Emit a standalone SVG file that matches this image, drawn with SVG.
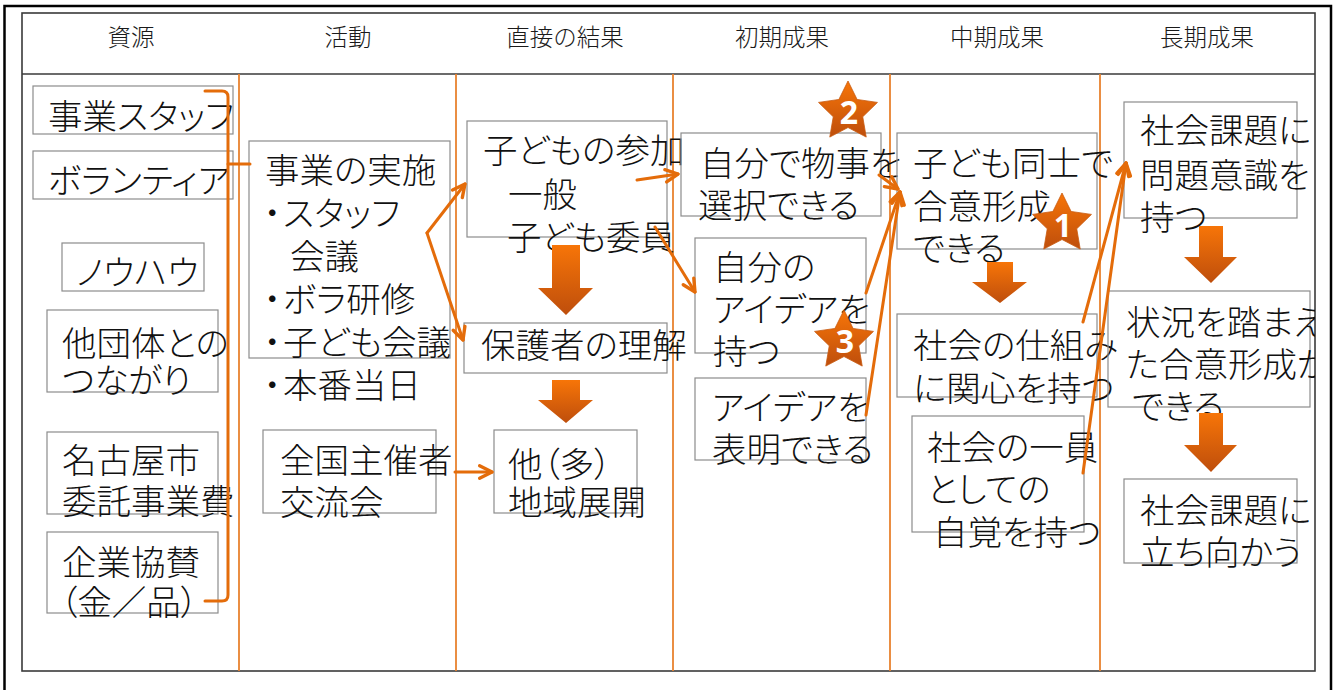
<svg xmlns="http://www.w3.org/2000/svg" width="1335" height="690" viewBox="0 0 1335 690">
<style>
  .hd { font-family: "Noto Sans CJK JP", "Noto Sans", sans-serif; font-size: 23.5px; font-weight: 300; fill: #1a1a1a; text-anchor: middle; }
  .t { font-family: "Noto Sans CJK JP", "Noto Sans", sans-serif; font-size: 34.5px; font-weight: 300; fill: #111; font-feature-settings: "palt"; }
  .bul { font-feature-settings: normal; }
  .box { fill: none; stroke: #8c8c8c; stroke-width: 1.2; }
  .col { stroke: #E8822E; stroke-width: 1.8; }
  .frame { fill: none; stroke: #3a3a3a; stroke-width: 1.6; }
  .con { fill: none; stroke: #E46C0A; stroke-width: 3; stroke-linecap: round; }
  .num { font-family: "Noto Sans", "Liberation Sans", sans-serif; font-size: 32px; font-weight: bold; fill: #fff; text-anchor: middle; }
</style>
<defs>
  <linearGradient id="og" x1="0" y1="0" x2="0" y2="1">
    <stop offset="0" stop-color="#F77508"/>
    <stop offset="1" stop-color="#BE4E0C"/>
  </linearGradient>
  <marker id="ah" markerUnits="userSpaceOnUse" markerWidth="18" markerHeight="18" viewBox="0 0 16 14" refX="13" refY="7" orient="auto">
    <path d="M2,1.5 L13,7 L2,12.5" fill="none" stroke="#E46C0A" stroke-width="3" stroke-linecap="round" stroke-linejoin="round"/>
  </marker>
  <path id="star" d="M0,-31 L9.11,-12.54 L29.48,-9.58 L14.74,4.79 L18.22,25.08 L0,15.5 L-18.22,25.08 L-14.74,4.79 L-29.48,-9.58 L-9.11,-12.54 Z" fill="url(#og)" stroke="#C85A10" stroke-width="0.8" stroke-linejoin="round"/>
  <clipPath id="c6"><rect x="1100" y="74" width="215" height="597"/></clipPath>
</defs>

<g id="frame">
  <rect x="4.5" y="6" width="1326.5" height="700" fill="none" stroke="#000" stroke-width="2.5"/>
  <rect class="frame" x="22" y="13" width="1293" height="658"/>
  <line x1="22" y1="74" x2="1315" y2="74" stroke="#3a3a3a" stroke-width="1.6"/>
  <line class="col" x1="239" y1="74" x2="239" y2="671"/>
  <line class="col" x1="456" y1="74" x2="456" y2="671"/>
  <line class="col" x1="673" y1="74" x2="673" y2="671"/>
  <line class="col" x1="890" y1="74" x2="890" y2="671"/>
  <line class="col" x1="1100" y1="74" x2="1100" y2="671"/>
</g>

<g id="headers">
  <text class="hd" x="131" y="46">資源</text>
  <text class="hd" x="348" y="46">活動</text>
  <text class="hd" x="565" y="46">直接の結果</text>
  <text class="hd" x="782" y="46">初期成果</text>
  <text class="hd" x="997" y="46">中期成果</text>
  <text class="hd" x="1207" y="46">長期成果</text>
</g>

<g id="staff"><rect class="box" x="33" y="86" width="200" height="48"/><text class="t" x="48" y="129">事業スタッフ</text></g>
<g id="volunteer"><rect class="box" x="33" y="151" width="200" height="48"/><text class="t" x="48" y="193">ボランティア</text></g>
<g id="knowhow"><rect class="box" x="62" y="243" width="142" height="48"/><text class="t" x="76" y="285">ノウハウ</text></g>
<g id="network"><rect class="box" x="47" y="310" width="171" height="82"/><text class="t" x="62" y="356">他団体との</text><text class="t" x="62" y="393">つながり</text></g>
<g id="nagoya"><rect class="box" x="47" y="432" width="171" height="82"/><text class="t" x="62" y="473">名古屋市</text><text class="t" x="62" y="514">委託事業費</text></g>
<g id="sponsor"><rect class="box" x="47" y="532" width="171" height="81"/><text class="t" x="62" y="575">企業協賛</text><text class="t" x="60" y="615">（金／品）</text></g>

<g id="implement"><rect class="box" x="249" y="141" width="201" height="217"/>
  <text class="t" x="265" y="183">事業の実施</text>
  <text class="t" y="226"><tspan class="bul" x="255">・</tspan><tspan x="283">スタッフ</tspan></text>
  <text class="t" x="290" y="269">会議</text>
  <text class="t" y="312"><tspan class="bul" x="255">・</tspan><tspan x="283">ボラ研修</tspan></text>
  <text class="t" y="355"><tspan class="bul" x="255">・</tspan><tspan x="283">子ども会議</tspan></text>
  <text class="t" y="398"><tspan class="bul" x="255">・</tspan><tspan x="283">本番当日</tspan></text>
</g>
<g id="national"><rect class="box" x="263" y="430" width="173" height="83"/><text class="t" x="280" y="473">全国主催者</text><text class="t" x="280" y="515">交流会</text></g>

<g id="participation"><rect class="box" x="467" y="121" width="200" height="116"/>
  <text class="t" x="483" y="163">子どもの参加</text>
  <text class="t" x="508" y="207">一般</text>
  <text class="t" x="507" y="250">子ども委員</text>
</g>
<g id="parents"><rect class="box" x="464" y="323" width="203" height="50"/><text class="t" x="481" y="358">保護者の理解</text></g>
<g id="expansion"><rect class="box" x="494" y="430" width="143" height="83"/><text class="t" x="508" y="477">他（多）</text><text class="t" x="508" y="515">地域展開</text></g>

<g id="choose"><rect class="box" x="681" y="133" width="200" height="83"/><text class="t" x="700" y="176">自分で物事を</text><text class="t" x="698" y="218">選択できる</text></g>
<g id="idea"><rect class="box" x="695" y="238" width="171" height="115"/><text class="t" x="713" y="280">自分の</text><text class="t" x="713" y="322">アイデアを</text><text class="t" x="713" y="364">持つ</text></g>
<g id="express"><rect class="box" x="695" y="378" width="171" height="82"/><text class="t" x="712" y="420">アイデアを</text><text class="t" x="712" y="462">表明できる</text></g>

<g id="consensus"><rect class="box" x="897" y="133" width="200" height="116"/><text class="t" x="913" y="176">子ども同士で</text><text class="t" x="913" y="219">合意形成</text><text class="t" x="913" y="261">できる</text></g>
<g id="society"><rect class="box" x="897" y="314" width="200" height="83"/><text class="t" x="913" y="358">社会の仕組み</text><text class="t" x="913" y="401">に関心を持つ</text></g>
<g id="member"><rect class="box" x="912" y="416" width="172" height="116"/><text class="t" x="927" y="460">社会の一員</text><text class="t" x="927" y="502">としての</text><text class="t" x="933" y="545">自覚を持つ</text></g>

<g id="awareness"><rect class="box" x="1124" y="102" width="173" height="116"/><g clip-path="url(#c6)"><text class="t" x="1140" y="143">社会課題に</text><text class="t" x="1140" y="188">問題意識を</text><text class="t" x="1140" y="230">持つ</text></g></g>
<g id="situational"><rect class="box" x="1108" y="291" width="202" height="116"/><g clip-path="url(#c6)"><text class="t" x="1126" y="335">状況を踏まえ</text><text class="t" x="1126" y="377">た合意形成が</text><text class="t" x="1132" y="419">できる</text></g></g>
<g id="confront"><rect class="box" x="1124" y="479" width="173" height="84"/><g clip-path="url(#c6)"><text class="t" x="1140" y="523">社会課題に</text><text class="t" x="1140" y="565">立ち向かう</text></g></g>

<g id="block-arrows" fill="url(#og)">
  <path d="M552,245 H580 V288 H593 L566,315 L538,288 H552 Z"/>
  <path d="M552,380 H580 V400 H593 L566,423 L538,400 H552 Z"/>
  <path d="M987,262 H1013 V282 H1027 L1000,303 L972,282 H987 Z"/>
  <path d="M1199,226 H1223 V257 H1237 L1211,283 L1184,257 H1199 Z"/>
  <path d="M1199,413 H1223 V445 H1237 L1211,472 L1184,445 H1199 Z"/>
</g>

<g id="connectors">
  <path class="con" d="M205,91 H222 Q228,91 228,97 V595 Q228,601 222,601 H205"/>
  <path class="con" d="M228,164 H250"/>
  <path class="con" d="M427,233 L465,184" marker-end="url(#ah)"/>
  <path class="con" d="M427,233 L463,340" marker-end="url(#ah)"/>
  <path class="con" d="M455,472 L492,472" marker-end="url(#ah)"/>
  <path class="con" d="M637,180 L678,174" marker-end="url(#ah)"/>
  <path class="con" d="M655,227 L695,292" marker-end="url(#ah)"/>
  <path class="con" d="M879,175 L898,189" marker-end="url(#ah)"/>
  <path class="con" d="M866,293 L900,192" marker-end="url(#ah)"/>
  <path class="con" d="M866,415 L900,192" marker-end="url(#ah)"/>
  <path class="con" d="M1083,322 L1126,163" marker-end="url(#ah)"/>
  <path class="con" d="M1083,473 L1126,163" marker-end="url(#ah)"/>
</g>

<g id="star2"><use href="#star" x="848" y="112"/><text class="num" x="849" y="124">2</text></g>
<g id="star3"><use href="#star" x="844" y="341"/><text class="num" x="845" y="353">3</text></g>
<g id="star1"><use href="#star" x="1062" y="224"/><text class="num" x="1063" y="237">1</text></g>
</svg>
